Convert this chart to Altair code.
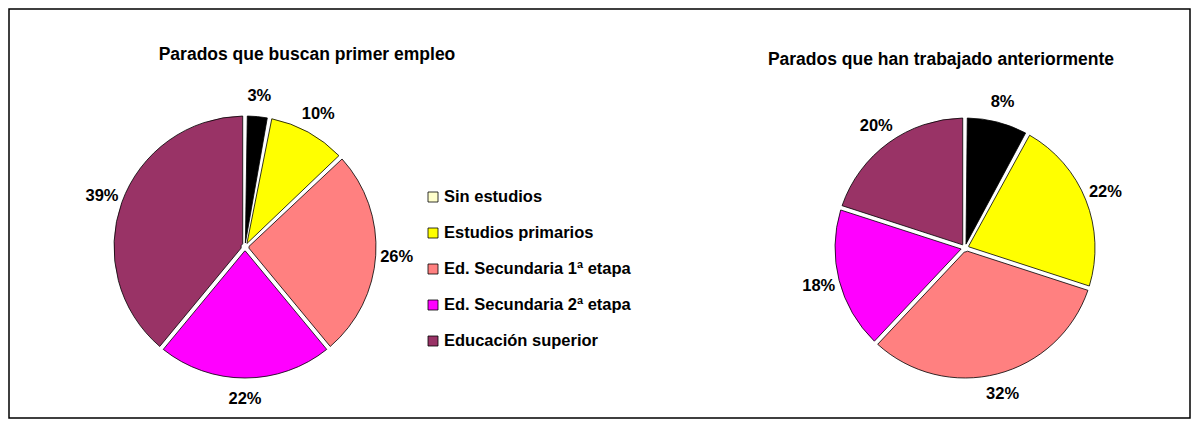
import altair as alt
import pandas as pd

categories = [
    "Sin estudios",
    "Estudios primarios",
    "Ed. Secundaria 1ª etapa",
    "Ed. Secundaria 2ª etapa",
    "Educación superior",
]
first_job = [3, 10, 26, 22, 39]
worked_before = [8, 22, 32, 18, 20]
titles = ["Parados que buscan primer empleo", "Parados que han trabajado anteriormente"]

slice_colors = ["#000000", "#FFFF00", "#FF8080", "#FF00FF", "#993366"]
legend_colors = ["#FFFFCC", "#FFFF00", "#FF8080", "#FF00FF", "#993366"]

W, H = 1181, 409
FONT = "Liberation Sans"


def pie(values, cx, cy, r):
    df = pd.DataFrame({"cat": categories, "value": values, "idx": list(range(len(categories)))})
    base = alt.Chart(df).encode(
        theta=alt.Theta("value:Q", stack=True),
        order=alt.Order("idx:Q"),
        x=alt.value(cx),
        y=alt.value(cy),
    )
    arcs = base.mark_arc(
        outerRadius=r, innerRadius=4, padAngle=0.035, stroke="black", strokeWidth=0.8
    ).encode(
        color=alt.Color("cat:N", scale=alt.Scale(domain=categories, range=slice_colors), legend=None)
    )
    labels = base.transform_calculate(label="datum.value + '%'").mark_text(
        radius=r + 21, font=FONT, fontWeight="bold", fontSize=16.5, color="black"
    ).encode(text="label:N")
    return arcs, labels


arcs1, labels1 = pie(first_job, 236, 238, 131)
arcs2, labels2 = pie(worked_before, 956, 239, 130)

title_df = pd.DataFrame({"t": titles})
title1 = alt.Chart(title_df).transform_filter(alt.datum.t == titles[0]).mark_text(
    font=FONT, fontWeight="bold", fontSize=17.5, baseline="middle"
).encode(text="t:N", x=alt.value(298), y=alt.value(46))
title2 = alt.Chart(title_df).transform_filter(alt.datum.t == titles[1]).mark_text(
    font=FONT, fontWeight="bold", fontSize=17.5, baseline="middle"
).encode(text="t:N", x=alt.value(932), y=alt.value(51))

leg_df = pd.DataFrame({"cat": categories})
leg_y = alt.Y("cat:N", sort=categories, scale=alt.Scale(type="point", range=[188, 332], padding=0), axis=None)
squares = alt.Chart(leg_df).mark_square(size=100, stroke="black", strokeWidth=0.8, opacity=1).encode(
    x=alt.value(424),
    y=leg_y,
    fill=alt.Fill("cat:N", scale=alt.Scale(domain=categories, range=legend_colors), legend=None),
)
leg_text = alt.Chart(leg_df).mark_text(
    align="left", baseline="middle", font=FONT, fontWeight="bold", fontSize=16.5, color="black"
).encode(x=alt.value(435), y=leg_y, text="cat:N")

chart = alt.layer(
    arcs1, labels1, arcs2, labels2, squares, leg_text, title1, title2
).properties(
    width=W, height=H, padding=1, autosize=alt.AutoSizeParams(type="none")
).configure_view(stroke="black", strokeWidth=1.5)

chart.save("out.html", embed_options={"renderer": "svg", "actions": False})
